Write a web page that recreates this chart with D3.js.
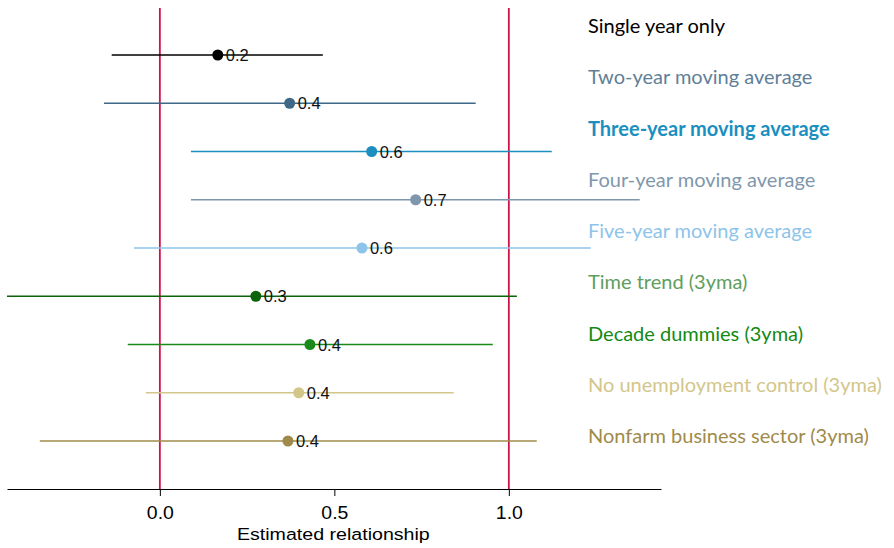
<!DOCTYPE html>
<html>
<head>
<meta charset="utf-8">
<script src="https://cdn.jsdelivr.net/npm/d3@7"></script>
<style>
  html, body { margin: 0; padding: 0; background: #fff; }
  svg { display: block; }
</style>
</head>
<body>
<svg id="chart" width="894" height="548"></svg>
<script>
// Specifications compared
const specs = [
  "Single year only",
  "Two-year moving average",
  "Three-year moving average",
  "Four-year moving average",
  "Five-year moving average",
  "Time trend (3yma)",
  "Decade dummies (3yma)",
  "No unemployment control (3yma)",
  "Nonfarm business sector (3yma)"
];
// Point estimates and confidence bounds
const estimate = [0.166, 0.372, 0.607, 0.733, 0.579, 0.275, 0.430, 0.398, 0.367];
const lower    = [-0.138, -0.160, 0.089, 0.089, -0.074, -0.438, -0.092, -0.040, -0.344];
const upper    = [0.467, 0.905, 1.123, 1.375, 1.235, 1.023, 0.954, 0.842, 1.080];
const markColor  = ["#000000", "#3f6887", "#1a8fc0", "#7f97ad", "#8ec4ea", "#0b640b", "#1a8a1a", "#d3c68a", "#a08a4a"];
const labelColor = ["#000000", "#5f7f98", "#1a8fc0", "#7f97ad", "#8ec4ea", "#5e9e5e", "#138a13", "#d3c68a", "#a08a4a"];
const xTicks = [0, 0.5, 1];
const refLines = [0, 1];

const svg = d3.select("#chart");
const margin = { left: 7, right: 233, top: 8, bottom: 59 };
const W = 894, H = 548;

const x = d3.scaleLinear()
  .domain([-0.438, 1.436])
  .range([margin.left, W - margin.right]);

const y = d3.scalePoint()
  .domain(specs)
  .range([55, 441]);

const labelY = d3.scalePoint()
  .domain(specs)
  .range([26, 436]);

// Reference lines
svg.append("g").selectAll("line")
  .data(refLines)
  .join("line")
  .attr("x1", d => x(d)).attr("x2", d => x(d))
  .attr("y1", margin.top).attr("y2", H - margin.bottom)
  .attr("stroke", "#d0114a")
  .attr("stroke-width", 1.8);

// Axis
const axis = svg.append("g")
  .attr("transform", `translate(0,${H - margin.bottom})`)
  .call(d3.axisBottom(x).tickValues(xTicks).tickFormat(d3.format(".1f")).tickSize(7).tickSizeOuter(0));
axis.select(".domain").attr("stroke", "#000").attr("stroke-width", 1);
axis.selectAll(".tick line").attr("stroke", "#000");
axis.selectAll(".tick text")
  .attr("font-family", "'Liberation Sans', Arial, sans-serif")
  .attr("font-size", 18)
  .attr("fill", "#000")
  .attr("y", 0)
  .attr("dy", 0)
  .attr("transform", "translate(0,30) scale(1.08,1)");

// Axis title, slightly widened
svg.append("g")
  .attr("transform", `translate(${x(0.5) - 1},540) scale(1.14,1)`)
  .append("text")
  .attr("text-anchor", "middle")
  .attr("font-family", "'Liberation Sans', Arial, sans-serif")
  .attr("font-size", 17.2)
  .text("Estimated relationship");

const rows = specs.map((s, i) => ({ s, est: estimate[i], lo: lower[i], hi: upper[i], i }));

const g = svg.append("g");
// Confidence intervals
g.selectAll("line.ci")
  .data(rows)
  .join("line")
  .attr("class", "ci")
  .attr("x1", d => x(d.lo)).attr("x2", d => x(d.hi))
  .attr("y1", d => y(d.s)).attr("y2", d => y(d.s))
  .attr("stroke", d => markColor[d.i])
  .attr("stroke-width", 1.6);

// Point estimates
g.selectAll("circle")
  .data(rows)
  .join("circle")
  .attr("cx", d => x(d.est))
  .attr("cy", d => y(d.s))
  .attr("r", 5.5)
  .attr("fill", d => markColor[d.i]);

// Value labels
g.selectAll("text.val")
  .data(rows)
  .join("text")
  .attr("class", "val")
  .attr("x", d => x(d.est) + 8)
  .attr("y", d => y(d.s) + 6)
  .attr("font-family", "'Liberation Sans', Arial, sans-serif")
  .attr("font-size", 16.5)
  .attr("fill", "#111")
  .text(d => d3.format(".1f")(d.est));

// Specification labels
svg.append("g").selectAll("text")
  .data(rows)
  .join("text")
  .attr("x", 588)
  .attr("y", d => labelY(d.s))
  .attr("dy", "0.35em")
  .attr("font-family", "Lato, 'Open Sans', sans-serif")
  .attr("font-size", 20)
  .attr("font-weight", d => d.i === 2 ? 700 : 400)
  .attr("fill", d => labelColor[d.i])
  .text(d => d.s);
</script>
</body>
</html>
